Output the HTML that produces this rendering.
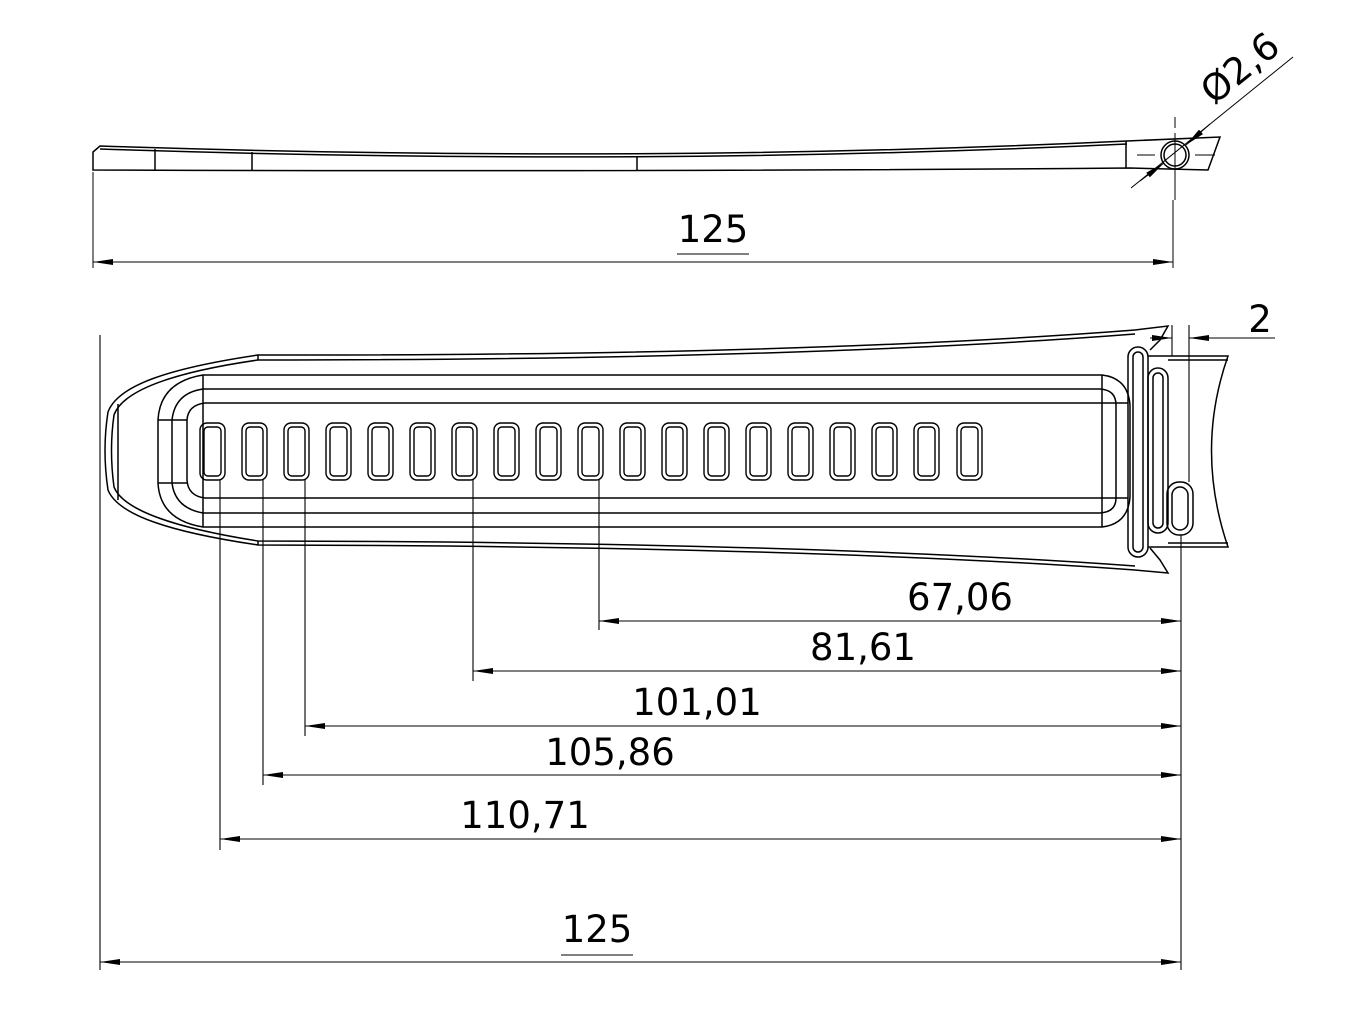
<!DOCTYPE html>
<html><head><meta charset="utf-8"><style>
html,body{margin:0;padding:0;background:#fff;}
svg{display:block;}
text{font-family:"DejaVu Sans","Liberation Sans",sans-serif;fill:#000;}
</style></head><body>
<svg width="1351" height="1017" viewBox="0 0 1351 1017" xmlns="http://www.w3.org/2000/svg">
<defs>
<marker id="a" viewBox="0 0 20 6" refX="20" refY="3" markerWidth="20" markerHeight="6" orient="auto-start-reverse" markerUnits="userSpaceOnUse"><path d="M0,0 L20,3 L0,6 z" fill="#000"/></marker>
</defs>
<g fill="none" stroke="#000" stroke-width="1.5">
<path d="M100,146 Q640,164 1127,141 L1220,137 L1208,170 L1130,168 Q640,172 93,170 L93,152 Z"/>
<path d="M100,149 Q640,167 1127,144"/>
<line x1="155" y1="149" x2="155" y2="170"/>
<line x1="252" y1="152" x2="252" y2="171"/>
<line x1="637" y1="156" x2="637" y2="171"/>
<line x1="1126" y1="141" x2="1126" y2="168"/>
<circle cx="1175" cy="155" r="14"/>
<circle cx="1175" cy="155" r="11"/>
<line x1="1175" y1="117" x2="1175" y2="128" stroke-width="1"/>
<line x1="1175" y1="133" x2="1175" y2="200" stroke-width="1"/>
<line x1="1137" y1="155" x2="1155" y2="155" stroke-width="1"/>
<line x1="1195" y1="155" x2="1215" y2="155" stroke-width="1"/>
<line x1="1131" y1="188" x2="1293" y2="57" stroke-width="1"/>
<line x1="1140" y1="181" x2="1164" y2="163" stroke-width="1" marker-end="url(#a)"/>
<line x1="1210" y1="124" x2="1186" y2="145" stroke-width="1" marker-end="url(#a)"/>
<line x1="93" y1="172" x2="93" y2="268" stroke-width="1"/>
<line x1="1173" y1="200" x2="1173" y2="268" stroke-width="1"/>
<line x1="93" y1="262" x2="1173" y2="262" stroke-width="1" marker-start="url(#a)" marker-end="url(#a)"/>
<line x1="677" y1="254" x2="749" y2="254" stroke-width="1"/>

<path d="M1135,330 Q800,356 258,355 C170,368 118,385 108,412 Q102,450 108,490 C118,515 170,532 258,545 Q800,546 1135,570"/>
<path d="M1135,334 Q800,360 258,360 C175,372 123,390 114,415 Q109,450 114,487 C123,510 175,528 258,541 Q800,542 1135,566"/>
<line x1="118" y1="404" x2="118" y2="500"/>
<line x1="258" y1="355" x2="258" y2="360"/>
<line x1="258" y1="541" x2="258" y2="545"/>
<path d="M203,375 L1102,375 Q1128,378 1130,405 L1130,497 Q1128,524 1102,527 L203,527 Q160,520 158,483 L158,420 Q160,382 203,375 Z"/>
<path d="M203,389 L1100,389 Q1116,390 1116,405 L1116,498 Q1116,512 1100,513 L203,513 Q175,508 172,483 L172,420 Q175,393 203,389 Z"/>
<path d="M205,403 L1128,403 M1128,498 L205,498 Q188,496 187,480 L187,420 Q188,405 205,403"/>
<line x1="203" y1="375" x2="203" y2="527"/>
<line x1="1102" y1="375" x2="1102" y2="527"/>
<line x1="158" y1="420" x2="187" y2="420"/>
<line x1="158" y1="483" x2="187" y2="483"/>
<path d="M1135,330 L1168,326 L1160,340 L1150,350"/>
<path d="M1135,570 L1168,573 L1160,560 L1150,548"/>
<rect x="1128" y="347" width="20" height="210" rx="10"/>
<rect x="1133" y="352" width="10" height="200" rx="5"/>
<rect x="1148" y="368" width="20" height="165" rx="10"/>
<rect x="1153" y="373" width="10" height="155" rx="5"/>
<rect x="1167" y="482" width="26" height="53" rx="12"/>
<rect x="1172" y="487" width="16" height="43" rx="8"/>
<path d="M1148,356 L1228,356 Q1195,450 1228,547 L1148,547"/>
<line x1="1168" y1="360" x2="1228" y2="360"/>
<line x1="1168" y1="543" x2="1228" y2="543"/>
</g>
<g fill="none" stroke="#000" stroke-width="1.4">
<rect x="200" y="423" width="25" height="57" rx="7"/><rect x="204" y="427" width="17" height="49" rx="4"/>
<rect x="242" y="423" width="25" height="57" rx="7"/><rect x="246" y="427" width="17" height="49" rx="4"/>
<rect x="284" y="423" width="25" height="57" rx="7"/><rect x="288" y="427" width="17" height="49" rx="4"/>
<rect x="326" y="423" width="25" height="57" rx="7"/><rect x="330" y="427" width="17" height="49" rx="4"/>
<rect x="368" y="423" width="25" height="57" rx="7"/><rect x="372" y="427" width="17" height="49" rx="4"/>
<rect x="410" y="423" width="25" height="57" rx="7"/><rect x="414" y="427" width="17" height="49" rx="4"/>
<rect x="452" y="423" width="25" height="57" rx="7"/><rect x="456" y="427" width="17" height="49" rx="4"/>
<rect x="494" y="423" width="25" height="57" rx="7"/><rect x="498" y="427" width="17" height="49" rx="4"/>
<rect x="536" y="423" width="25" height="57" rx="7"/><rect x="540" y="427" width="17" height="49" rx="4"/>
<rect x="578" y="423" width="25" height="57" rx="7"/><rect x="582" y="427" width="17" height="49" rx="4"/>
<rect x="620" y="423" width="25" height="57" rx="7"/><rect x="624" y="427" width="17" height="49" rx="4"/>
<rect x="662" y="423" width="25" height="57" rx="7"/><rect x="666" y="427" width="17" height="49" rx="4"/>
<rect x="704" y="423" width="25" height="57" rx="7"/><rect x="708" y="427" width="17" height="49" rx="4"/>
<rect x="746" y="423" width="25" height="57" rx="7"/><rect x="750" y="427" width="17" height="49" rx="4"/>
<rect x="788" y="423" width="25" height="57" rx="7"/><rect x="792" y="427" width="17" height="49" rx="4"/>
<rect x="830" y="423" width="25" height="57" rx="7"/><rect x="834" y="427" width="17" height="49" rx="4"/>
<rect x="872" y="423" width="25" height="57" rx="7"/><rect x="876" y="427" width="17" height="49" rx="4"/>
<rect x="914" y="423" width="25" height="57" rx="7"/><rect x="918" y="427" width="17" height="49" rx="4"/>
<rect x="957" y="423" width="25" height="57" rx="7"/><rect x="961" y="427" width="17" height="49" rx="4"/>
</g>
<g fill="none" stroke="#000" stroke-width="1.1">
<line x1="1172" y1="325" x2="1172" y2="356"/>
<line x1="1189" y1="325" x2="1189" y2="482"/>
<line x1="1150" y1="338" x2="1172" y2="338" marker-end="url(#a)"/>
<line x1="1275" y1="338" x2="1189" y2="338" marker-end="url(#a)"/>
<line x1="100" y1="335" x2="100" y2="970"/>
<line x1="1181" y1="535" x2="1181" y2="970"/>
<line x1="599" y1="480" x2="599" y2="630"/>
<line x1="473" y1="480" x2="473" y2="681"/>
<line x1="305" y1="480" x2="305" y2="736"/>
<line x1="263" y1="480" x2="263" y2="785"/>
<line x1="220" y1="480" x2="220" y2="850"/>
<line x1="599" y1="621" x2="1181" y2="621" marker-start="url(#a)" marker-end="url(#a)"/>
<line x1="473" y1="671" x2="1181" y2="671" marker-start="url(#a)" marker-end="url(#a)"/>
<line x1="305" y1="726" x2="1181" y2="726" marker-start="url(#a)" marker-end="url(#a)"/>
<line x1="263" y1="775" x2="1181" y2="775" marker-start="url(#a)" marker-end="url(#a)"/>
<line x1="220" y1="839" x2="1181" y2="839" marker-start="url(#a)" marker-end="url(#a)"/>
<line x1="100" y1="962" x2="1181" y2="962" marker-start="url(#a)" marker-end="url(#a)"/>
<line x1="561" y1="955" x2="633" y2="955"/>
</g>
<g font-size="37" text-anchor="middle">
<text x="713" y="242">125</text>
<text x="597" y="942">125</text>
<text x="1260" y="332">2</text>
<text x="960" y="610">67,06</text>
<text x="863" y="660">81,61</text>
<text x="697" y="715">101,01</text>
<text x="610" y="765">105,86</text>
<text x="525" y="828">110,71</text>
<text x="1248" y="78" transform="rotate(-39 1248 78)">Ø2,6</text>
</g>
</svg>
</body></html>
